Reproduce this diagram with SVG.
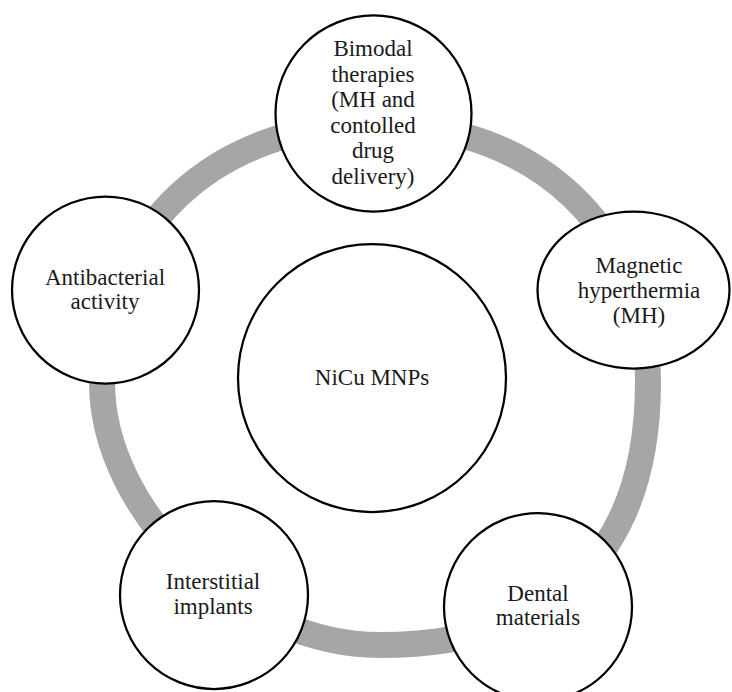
<svg xmlns="http://www.w3.org/2000/svg" width="732" height="692" viewBox="0 0 732 692">
  <style>
    .node { fill: #ffffff; stroke: #000000; stroke-width: 2.25; }
    .ring { fill: none; stroke: #a6a6a6; stroke-width: 26; }
    text { font-family: "Liberation Serif", "Times New Roman", serif; font-size: 23px; fill: #1a1a1a; text-anchor: middle; }
  </style>
  <rect width="732" height="692" fill="#ffffff"/>
  <g id="connectors">
    <path class="ring" d="M 102,382 C 102,229.8 213.9,124 375,124 C 536.1,124 648,229.8 648,382 C 648,553 554.2,645 380,645 C 241,645 102,513.5 102,382 Z"/>
  </g>
  <g id="node-center">
    <circle class="node" cx="372" cy="378" r="134"/>
    <text x="372" y="385">NiCu MNPs</text>
  </g>
  <g id="node-bimodal">
    <circle class="node" cx="373.5" cy="113.5" r="98"/>
    <text x="373" y="56">Bimodal</text>
    <text x="373" y="81.5">therapies</text>
    <text x="373" y="107">(MH and</text>
    <text x="373" y="132.5">contolled</text>
    <text x="373" y="158">drug</text>
    <text x="373" y="183.5">delivery)</text>
  </g>
  <g id="node-magnetic">
    <ellipse class="node" cx="633.5" cy="290" rx="96" ry="78.5"/>
    <text x="639" y="273">Magnetic</text>
    <text x="639" y="298">hyperthermia</text>
    <text x="639" y="323">(MH)</text>
  </g>
  <g id="node-dental">
    <circle class="node" cx="538" cy="607" r="94"/>
    <text x="538" y="601">Dental</text>
    <text x="538" y="625">materials</text>
  </g>
  <g id="node-interstitial">
    <circle class="node" cx="214" cy="595" r="94"/>
    <text x="213" y="589">Interstitial</text>
    <text x="213" y="614">implants</text>
  </g>
  <g id="node-antibacterial">
    <circle class="node" cx="105.5" cy="290" r="93.5"/>
    <text x="105" y="285">Antibacterial</text>
    <text x="105" y="309">activity</text>
  </g>
</svg>
